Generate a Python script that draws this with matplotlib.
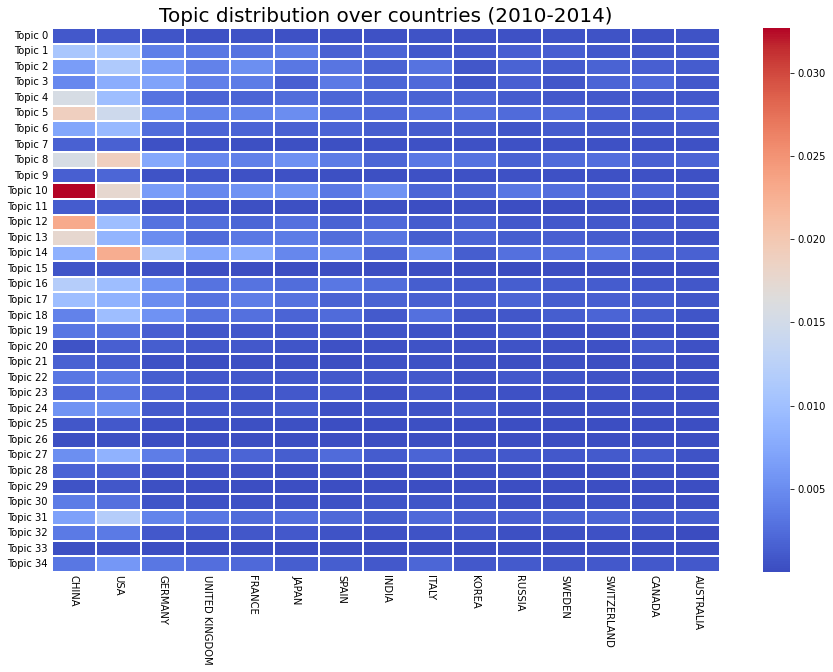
import numpy as np
import pandas as pd
import matplotlib
matplotlib.use("Agg")
import matplotlib.pyplot as plt
import seaborn as sns

countries = ["CHINA", "USA", "GERMANY", "UNITED KINGDOM", "FRANCE", "JAPAN", "SPAIN", "INDIA",
             "ITALY", "KOREA", "RUSSIA", "SWEDEN", "SWITZERLAND", "CANADA", "AUSTRALIA"]
topics = ["Topic {}".format(i) for i in range(35)]

topic_values = [
    [0.9, 0.9, 0.7, 0.5, 0.6, 0.5, 0.4, 0.5, 0.6, 0.5, 0.5, 0.6, 0.6, 0.5, 0.6],
    [10.8, 10.6, 3.9, 3.2, 3.0, 3.6, 1.6, 1.8, 1.0, 0.9, 1.5, 1.5, 0.9, 0.8, 0.9],
    [6.5, 11.4, 6.5, 4.2, 5.2, 3.3, 3.1, 1.7, 3.0, 0.8, 1.7, 1.2, 1.7, 1.5, 1.2],
    [4.6, 8.0, 7.0, 4.0, 3.6, 1.5, 3.5, 2.0, 2.2, 0.7, 1.5, 0.8, 1.8, 2.2, 1.0],
    [15.5, 9.8, 3.0, 1.8, 1.8, 2.5, 2.0, 2.0, 1.7, 1.8, 1.2, 0.9, 1.0, 0.9, 1.0],
    [19.0, 14.5, 5.5, 4.3, 4.3, 5.0, 2.8, 2.2, 2.7, 2.8, 2.4, 2.4, 1.5, 1.4, 1.8],
    [7.2, 9.3, 2.5, 1.8, 1.8, 1.6, 1.8, 1.4, 1.2, 1.2, 0.7, 1.2, 1.1, 1.0, 1.1],
    [1.6, 1.6, 0.4, 0.4, 0.3, 0.3, 0.3, 0.4, 0.5, 0.4, 0.4, 0.5, 0.4, 0.4, 0.4],
    [15.5, 19.0, 7.5, 4.7, 4.0, 5.3, 3.7, 2.0, 3.4, 3.0, 1.7, 2.3, 2.6, 1.6, 1.8],
    [1.5, 2.0, 0.6, 0.6, 0.5, 0.5, 0.3, 0.3, 0.5, 0.5, 0.4, 0.4, 0.4, 0.4, 0.4],
    [32.7, 17.5, 6.3, 4.6, 5.4, 5.5, 3.4, 5.6, 2.0, 1.7, 3.2, 2.6, 1.8, 1.8, 1.1],
    [1.2, 1.4, 0.4, 0.4, 0.3, 0.3, 0.2, 0.3, 0.2, 0.3, 0.2, 0.2, 0.3, 0.2, 0.2],
    [23.0, 9.8, 2.9, 2.5, 2.0, 2.7, 1.7, 2.2, 1.2, 1.6, 1.0, 1.0, 0.9, 1.0, 0.8],
    [17.5, 8.8, 5.0, 2.3, 3.4, 3.7, 2.5, 3.1, 1.4, 1.9, 1.4, 1.5, 1.2, 0.9, 0.6],
    [8.4, 22.8, 10.8, 7.5, 8.0, 4.5, 5.0, 2.0, 5.2, 1.3, 2.7, 2.8, 3.2, 1.7, 1.6],
    [0.7, 0.7, 0.4, 0.2, 0.2, 0.2, 0.2, 0.2, 0.2, 0.2, 0.1, 0.2, 0.2, 0.2, 0.2],
    [12.0, 9.8, 5.6, 3.0, 3.0, 2.5, 3.3, 2.5, 1.3, 1.1, 1.3, 1.2, 1.2, 1.0, 0.8],
    [9.8, 8.5, 5.0, 3.0, 3.8, 2.9, 1.7, 1.7, 1.5, 1.5, 1.8, 1.3, 1.5, 1.3, 0.8],
    [4.2, 9.8, 5.4, 3.0, 2.7, 1.8, 2.3, 1.1, 2.7, 0.8, 0.8, 1.3, 1.8, 1.4, 0.7],
    [3.3, 3.0, 1.5, 0.8, 1.0, 1.0, 0.8, 0.7, 0.6, 0.5, 0.8, 0.5, 0.5, 0.5, 0.2],
    [0.6, 1.5, 1.3, 0.9, 1.0, 0.7, 0.5, 0.4, 0.6, 0.4, 0.6, 0.4, 0.5, 1.1, 0.4],
    [1.6, 1.2, 0.4, 0.2, 0.3, 0.3, 0.2, 0.4, 0.4, 0.3, 0.2, 0.3, 0.2, 0.3, 0.2],
    [3.2, 3.8, 1.4, 1.0, 0.9, 1.0, 1.0, 0.9, 1.0, 0.6, 0.9, 0.7, 0.6, 0.5, 0.4],
    [2.2, 3.1, 1.6, 0.9, 0.7, 0.9, 0.9, 0.5, 0.8, 0.5, 0.5, 0.4, 0.4, 0.4, 0.3],
    [5.5, 5.6, 1.1, 1.0, 0.8, 1.2, 0.4, 0.7, 0.6, 1.2, 0.4, 0.3, 0.4, 0.5, 0.4],
    [0.8, 1.0, 0.5, 0.3, 0.3, 0.3, 0.2, 0.2, 0.3, 0.2, 0.2, 0.2, 0.2, 0.2, 0.2],
    [0.3, 0.3, 0.2, 0.2, 0.2, 0.2, 0.2, 0.2, 0.2, 0.2, 0.2, 0.2, 0.2, 0.2, 0.2],
    [5.2, 8.5, 3.8, 1.7, 1.8, 1.4, 2.4, 1.2, 1.8, 0.9, 1.0, 0.9, 1.1, 1.2, 0.6],
    [1.8, 1.5, 0.5, 0.4, 0.4, 0.3, 0.3, 0.3, 0.3, 0.3, 0.3, 0.2, 0.2, 0.3, 0.2],
    [0.6, 0.8, 0.3, 0.2, 0.2, 0.2, 0.2, 0.2, 0.2, 0.2, 0.2, 0.2, 0.2, 0.2, 0.2],
    [3.7, 2.8, 0.7, 0.5, 0.5, 0.4, 0.5, 0.7, 0.7, 0.7, 0.3, 0.3, 0.4, 0.3, 0.2],
    [6.8, 12.0, 4.3, 3.3, 2.4, 2.6, 2.1, 1.3, 2.2, 1.5, 1.5, 1.7, 1.8, 1.2, 1.3],
    [3.5, 3.5, 0.9, 0.7, 0.8, 0.9, 0.6, 0.4, 0.6, 0.7, 0.3, 0.3, 0.4, 0.3, 0.1],
    [0.3, 0.4, 0.2, 0.2, 0.2, 0.2, 0.2, 0.2, 0.2, 0.2, 0.2, 0.2, 0.2, 0.2, 0.2],
    [3.2, 6.0, 3.2, 2.6, 2.2, 1.4, 1.4, 1.0, 2.0, 1.0, 1.1, 0.8, 1.0, 0.9, 0.9],
]

df = pd.DataFrame(np.array(topic_values) / 1000, index=topics, columns=countries)

W, H = 833, 672
fig = plt.figure(figsize=(W / 72, H / 72), dpi=72)
ax = fig.add_axes([51.5 / W, 1 - 572 / H, 668.5 / W, 544 / H])
cax = fig.add_axes([763 / W, 1 - 572 / H, 27 / W, 544 / H])

sns.heatmap(df, ax=ax, cbar_ax=cax, cmap="coolwarm", linewidths=2, linecolor="white", vmin=0, vmax=0.0327)

ax.tick_params(length=0, labelsize=10)
ax.tick_params(axis="x", pad=3)
ax.set_yticklabels(topics, rotation=0)
ax.set_xticklabels(countries, rotation=270)
ax.set_title("Topic distribution over countries (2010-2014)", fontsize=20, pad=6)
cax.tick_params(labelsize=10, length=3.5)
cax.set_yticks([0.005, 0.010, 0.015, 0.020, 0.025, 0.030])
cax.set_yticklabels(["0.005", "0.010", "0.015", "0.020", "0.025", "0.030"])

plt.savefig("out.png", dpi=72, facecolor="white")
